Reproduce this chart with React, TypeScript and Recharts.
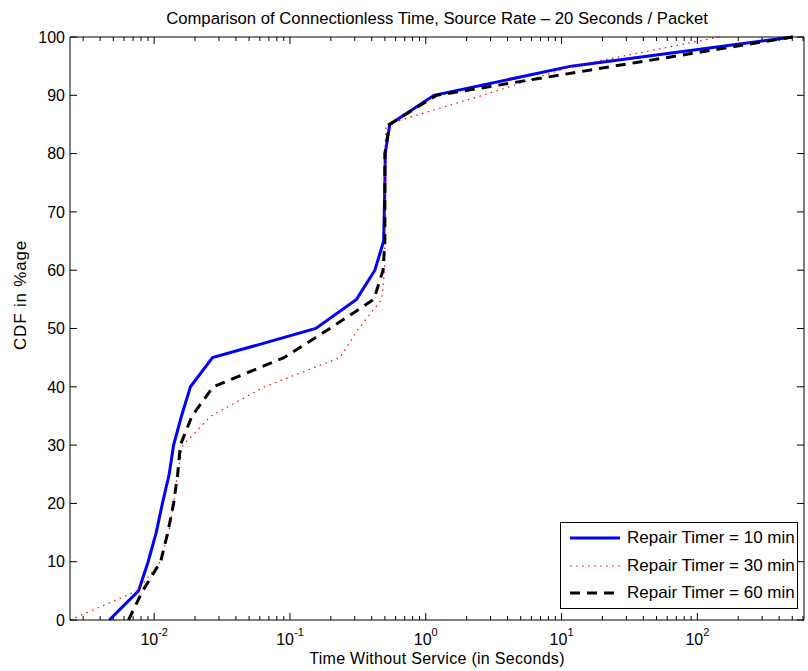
import { LineChart, Line, XAxis, YAxis } from 'recharts'

// CDF levels shared by all three series (percent)
const cdfLevels = [0, 5, 10, 15, 20, 25, 30, 35, 40, 45, 50, 55, 60, 65, 70, 75, 80, 85, 90, 95, 100]

// time without service (seconds) at each CDF level
const timer10 = [0.00467, 0.00767, 0.00903, 0.01035, 0.0115, 0.0129, 0.0139, 0.0159, 0.0185, 0.0269, 0.155, 0.309, 0.422, 0.49, 0.495, 0.5, 0.503, 0.543, 1.15, 11.8, 505]
const timer30 = [0.0024, 0.0075, 0.0111, 0.0128, 0.0139, 0.0148, 0.0163, 0.0262, 0.065, 0.233, 0.321, 0.474, 0.497, 0.5, 0.5, 0.5, 0.5, 0.51, 2.63, 12.0, 145]
const timer60 = [0.00647, 0.00823, 0.01116, 0.0126, 0.0139, 0.0149, 0.0156, 0.019, 0.0272, 0.0904, 0.197, 0.415, 0.485, 0.5, 0.5, 0.5, 0.5, 0.54, 1.2, 24.3, 505]

const majorTicks = [0.01, 0.1, 1, 10, 100]
const majorLabels = ['-2', '-1', '0', '1', '2']
const minorSteps = [2, 3, 4, 5, 6, 7, 8, 9]
const decades = [0.001, 0.01, 0.1, 1, 10, 100]
const yTicks = [0, 10, 20, 30, 40, 50, 60, 70, 80, 90, 100]

const X_DOMAIN = [0.0024, 610]
const FONT = '"Liberation Sans", Arial, Helvetica, sans-serif'

const logTicks = [
  ...majorTicks,
  ...decades.flatMap((d) => minorSteps.map((m) => +(m * d).toPrecision(3))),
]
  .filter((v) => v >= X_DOMAIN[0] && v <= X_DOMAIN[1])
  .sort((a, b) => a - b)

const toPoints = (times: number[]) => times.map((t, i) => ({ t, cdf: cdfLevels[i] }))

const series = [
  { name: 'Repair Timer = 10 min', data: toPoints(timer10), color: '#0000ff', width: 3, dash: undefined },
  { name: 'Repair Timer = 30 min', data: toPoints(timer30), color: '#ff0000', width: 1.2, dash: '1.5 4.5' },
  { name: 'Repair Timer = 60 min', data: toPoints(timer60), color: '#000000', width: 3, dash: '10 7' },
]

const majorIndex = (v: number) => majorTicks.findIndex((m) => Math.abs(m - v) / m < 1e-6)

function BottomTick({ x, y, payload }: any) {
  const i = majorIndex(payload.value)
  const len = i >= 0 ? 7 : 4
  return (
    <g>
      <line x1={x} x2={x} y1={y} y2={y - len} stroke="#000" strokeWidth={1} />
      {i >= 0 && (
        <text x={x} y={y + 25} textAnchor="middle" fontFamily={FONT} fontSize={16} fill="#000">
          10
          <tspan dy={-9} fontSize={11}>{majorLabels[i]}</tspan>
        </text>
      )}
    </g>
  )
}

function TopTick({ x, y, payload }: any) {
  const len = majorIndex(payload.value) >= 0 ? 7 : 4
  return <line x1={x} x2={x} y1={y} y2={y + len} stroke="#000" strokeWidth={1} />
}

function LeftTick({ x, y, payload }: any) {
  return (
    <g>
      <line x1={x} x2={x + 7} y1={y} y2={y} stroke="#000" strokeWidth={1} />
      <text x={x - 5} y={y} dy="0.36em" textAnchor="end" fontFamily={FONT} fontSize={16} fill="#000">
        {payload.value}
      </text>
    </g>
  )
}

function RightTick({ x, y }: any) {
  return <line x1={x} x2={x - 7} y1={y} y2={y} stroke="#000" strokeWidth={1} />
}

function LegendBox() {
  return (
    <div style={{ position: 'absolute', left: 560, top: 522, border: '1px solid #000', background: '#fff', boxSizing: 'border-box', width: 238, height: 87, paddingTop: 1 }}>
      {series.map((s) => (
        <div key={s.name} style={{ display: 'flex', alignItems: 'center', height: 27.7 }}>
          <svg width={58} height={10} style={{ marginLeft: 8 }}>
            <line x1={1} x2={51} y1={5} y2={5} stroke={s.color} strokeWidth={s.width} strokeDasharray={s.dash} />
          </svg>
          <span style={{ fontFamily: FONT, fontSize: 17, color: '#000', whiteSpace: 'nowrap' }}>{s.name}</span>
        </div>
      ))}
    </div>
  )
}

export default function App() {
  return (
    <div style={{ position: 'absolute', left: 0, top: 0, width: 808, height: 671, background: '#fff' }}>
      <LineChart width={808} height={671} margin={{ top: 36, right: 0, bottom: 0, left: 0 }}>
        <XAxis
          xAxisId="b" orientation="bottom" dataKey="t" type="number" scale="log"
          domain={X_DOMAIN} allowDataOverflow ticks={logTicks} interval={0}
          height={51} tickLine={false} tickSize={0} tickMargin={0} tick={BottomTick}
          axisLine={{ stroke: '#000', strokeWidth: 1 }}
          label={(props: any) => {
            const vb = props.viewBox
            return (
              <text x={vb.x + vb.width / 2} y={664} textAnchor="middle" fontFamily={FONT} fontSize={16} letterSpacing={0.3} fill="#000">
                Time Without Service (in Seconds)
              </text>
            )
          }}
        />
        <XAxis
          xAxisId="t" orientation="top" dataKey="t" type="number" scale="log"
          domain={X_DOMAIN} allowDataOverflow ticks={logTicks} interval={0}
          height={1} tickLine={false} tickSize={0} tickMargin={0} tick={TopTick}
          axisLine={{ stroke: '#000', strokeWidth: 1 }}
        />
        <YAxis
          yAxisId="l" orientation="left" type="number" domain={[0, 100]} ticks={yTicks} interval={0}
          width={70} tickLine={false} tickSize={0} tickMargin={0} tick={LeftTick}
          axisLine={{ stroke: '#000', strokeWidth: 1 }}
          label={() => (
            <text x={26} y={295} transform="rotate(-90 26 295)" textAnchor="middle" fontFamily={FONT} fontSize={17} letterSpacing={0.8} fill="#000">
              CDF in %age
            </text>
          )}
        />
        <YAxis
          yAxisId="r" orientation="right" type="number" domain={[0, 100]} ticks={yTicks} interval={0}
          width={4} tickLine={false} tickSize={0} tickMargin={0} tick={RightTick}
          axisLine={{ stroke: '#000', strokeWidth: 1 }}
        />
        {/* invisible copy so the mirrored top/right axes get drawn */}
        <Line
          xAxisId="t" yAxisId="r" data={series[0].data} dataKey="cdf" stroke="none"
          dot={false} activeDot={false} isAnimationActive={false} legendType="none"
        />
        {series.map((s) => (
          <Line
            key={s.name} xAxisId="b" yAxisId="l" data={s.data} dataKey="cdf" name={s.name}
            type="linear" stroke={s.color} strokeWidth={s.width} strokeDasharray={s.dash}
            dot={false} activeDot={false} isAnimationActive={false}
          />
        ))}
      </LineChart>
      <div style={{ position: 'absolute', left: 0, top: 9, width: 874, textAlign: 'center', fontFamily: FONT, fontSize: 16.7, color: '#000', whiteSpace: 'nowrap' }}>
        Comparison of Connectionless Time, Source Rate – 20 Seconds / Packet
      </div>
      <LegendBox />
    </div>
  )
}
